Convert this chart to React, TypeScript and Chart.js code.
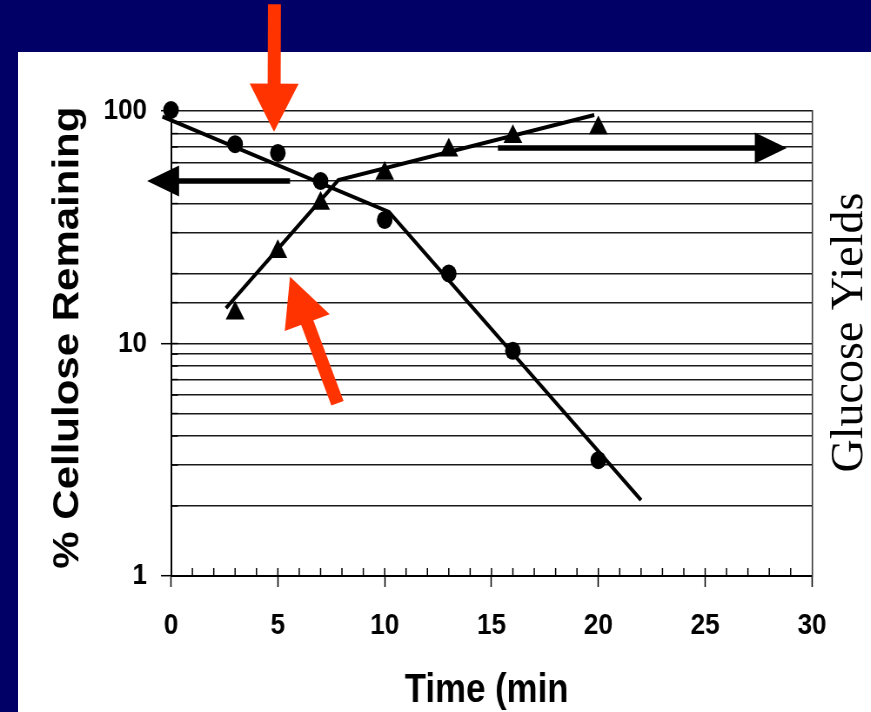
import React, { useEffect, useRef } from 'react';
import { Chart, registerables } from 'chart.js';

Chart.register(...registerables);

// ---- page geometry ----
const W = 871;
const H = 712;
const S = 0.87; // horizontal squeeze of the original slide
const LW = Math.round(W / S);

// ---- data ----
const CELL_TIME = [0, 3, 5, 7, 10, 13, 16, 20];
const CELL_PCT = [101, 72, 66, 50, 34, 20, 9.3, 3.15];
const GLU_TIME = [3, 5, 7, 10, 13, 16, 20];
const GLU_YIELD = [13.5, 24.8, 40, 53.8, 67.8, 77.5, 84.5];
const CELL_FIT_TIME = [-0.4, 10.2, 22];
const CELL_FIT_PCT = [94.5, 36.8, 2.12];
const GLU_FIT_TIME = [2.57, 7.83, 19.81];
const GLU_FIT_YIELD = [14.2, 50.5, 96.1];
const X_LABELS = [0, 5, 10, 15, 20, 25, 30];
const Y_LABELS = [1, 10, 100];

// annotation arrows, in data units (time, %)
const ARROW_FROM_T = [5.57, 15.3, 4.84, 7.79];
const ARROW_FROM_V = [50, 69.3, 288, 5.53];
const ARROW_TO_T = [-1.12, 28.82, 4.82, 5.57];
const ARROW_TO_V = [50, 69.3, 81.5, 19.38];
const ARROW_COLOR = ['#000000', '#000000', '#ff3300', '#ff3300'];
const ARROW_SHAFT = [5.5, 5.5, 13, 13];
const ARROW_HEAD_LEN = [32, 32, 48, 49];
const ARROW_HEAD_W = [31, 31, 49, 48];

const FAMILY = '"Liberation Sans", Arial, sans-serif';

const near = (v: number, list: number[]) => list.some((l) => Math.abs(v - l) < 1e-6);

function drawArrow(ctx: CanvasRenderingContext2D, x1: number, y1: number, x2: number, y2: number,
  shaft: number, headLen: number, headW: number, color: string) {
  const dx = x2 - x1;
  const dy = y2 - y1;
  const len = Math.hypot(dx, dy);
  const ux = dx / len;
  const uy = dy / len;
  const bx = x2 - ux * headLen;
  const by = y2 - uy * headLen;
  ctx.strokeStyle = color;
  ctx.fillStyle = color;
  ctx.lineWidth = shaft;
  ctx.lineCap = 'butt';
  ctx.beginPath();
  ctx.moveTo(x1, y1);
  ctx.lineTo(bx + ux * 1, by + uy * 1);
  ctx.stroke();
  ctx.beginPath();
  ctx.moveTo(x2, y2);
  ctx.lineTo(bx - uy * headW / 2, by + ux * headW / 2);
  ctx.lineTo(bx + uy * headW / 2, by - ux * headW / 2);
  ctx.closePath();
  ctx.fill();
}

const decorPlugin = {
  id: 'decor',
  afterDraw(chart: any) {
    const { ctx, chartArea: a } = chart;
    const x = chart.scales.x;
    const y = chart.scales.y;
    ctx.save();
    ctx.strokeStyle = '#000';
    ctx.lineWidth = 1.5;
    for (const t of x.ticks) {
      if (t.value <= 0 || t.value >= 30) continue;
      const px = x.getPixelForValue(t.value);
      ctx.beginPath();
      ctx.moveTo(px, a.bottom);
      ctx.lineTo(px, a.bottom - 8);
      ctx.stroke();
    }
    ctx.lineWidth = 1.4;
    for (const t of y.ticks) {
      const py = y.getPixelForValue(t.value);
      ctx.beginPath();
      ctx.moveTo(a.left, py);
      ctx.lineTo(a.left + 8, py);
      ctx.stroke();
    }
    ctx.restore();

    ctx.save();
    ctx.scale(1 / S, 1);
    for (let i = 0; i < ARROW_FROM_T.length; i++) {
      drawArrow(
        ctx,
        x.getPixelForValue(ARROW_FROM_T[i]) * S,
        y.getPixelForValue(ARROW_FROM_V[i]),
        x.getPixelForValue(ARROW_TO_T[i]) * S,
        y.getPixelForValue(ARROW_TO_V[i]),
        ARROW_SHAFT[i], ARROW_HEAD_LEN[i], ARROW_HEAD_W[i], ARROW_COLOR[i]
      );
    }
    ctx.font = '46px "Liberation Serif", "Times New Roman", serif';
    ctx.fillStyle = '#000';
    ctx.textAlign = 'center';
    ctx.textBaseline = 'middle';
    ctx.translate(a.right * S + 38, (a.top + a.bottom) / 2 - 11);
    ctx.rotate(-Math.PI / 2);
    ctx.fillText('Glucose Yields', 0, 0);
    ctx.restore();
  },
};

export default function App() {
  const ref = useRef<HTMLCanvasElement | null>(null);

  useEffect(() => {
    if (!ref.current) return;
    const pts = (xs: number[], ys: number[]) => xs.map((v, i) => ({ x: v, y: ys[i] }));
    const chart = new Chart(ref.current, {
      type: 'scatter',
      data: {
        datasets: [
          {
            label: 'Cellulose fit',
            data: pts(CELL_FIT_TIME, CELL_FIT_PCT),
            showLine: true,
            borderColor: '#000',
            borderWidth: 4,
            pointRadius: 0,
            tension: 0,
            clip: false as any,
            yAxisID: 'y',
          },
          {
            label: 'Glucose fit',
            data: pts(GLU_FIT_TIME, GLU_FIT_YIELD),
            showLine: true,
            borderColor: '#000',
            borderWidth: 4,
            pointRadius: 0,
            tension: 0,
            yAxisID: 'y2',
          },
          {
            label: '% Cellulose Remaining',
            data: pts(CELL_TIME, CELL_PCT),
            showLine: false,
            pointStyle: 'circle',
            pointRadius: 9,
            pointBackgroundColor: '#000',
            pointBorderWidth: 0,
            clip: false as any,
            yAxisID: 'y',
          },
          {
            label: 'Glucose Yields',
            data: pts(GLU_TIME, GLU_YIELD),
            showLine: false,
            pointStyle: 'triangle',
            pointRadius: 12.5,
            pointBackgroundColor: '#000',
            pointBorderWidth: 0,
            clip: false as any,
            yAxisID: 'y2',
          },
        ],
      },
      options: {
        responsive: false,
        animation: false,
        devicePixelRatio: 1,
        layout: { padding: { top: 111, left: 0, right: 0, bottom: 0 } },
        plugins: { legend: { display: false }, tooltip: { enabled: false }, title: { display: false } },
        scales: {
          x: {
            type: 'linear',
            position: 'bottom',
            min: 0,
            max: 30,
            afterFit: (s: any) => { s.height = H - 576; },
            grid: {
              drawOnChartArea: false,
              drawTicks: true,
              tickLength: 11,
              tickWidth: 1.5,
              tickColor: (c: any) => (c.tick && near(c.tick.value, X_LABELS) ? '#000' : 'rgba(0,0,0,0)'),
            },
            border: { display: true, color: '#000', width: 2 },
            ticks: {
              stepSize: 1,
              autoSkip: false,
              maxRotation: 0,
              padding: 21,
              color: '#000',
              font: { family: FAMILY, size: 30, weight: 'bold' },
              callback: (v: any) => (near(Number(v), X_LABELS) ? String(v) : ''),
            },
            title: {
              display: true,
              text: 'Time (min ',
              color: '#000',
              font: { family: FAMILY, size: 40, weight: 'bold', lineHeight: 1 },
              padding: { top: 0, bottom: 1 },
            },
          },
          y: {
            type: 'logarithmic',
            position: 'left',
            min: 1,
            max: 100,
            afterFit: (s: any) => { s.width = 171 / S; },
            grid: {
              color: '#1a1a1a',
              lineWidth: 1.4,
              drawTicks: true,
              tickLength: 11.5,
              tickWidth: 1.5,
              tickColor: (c: any) => (c.tick && near(c.tick.value, Y_LABELS) ? '#000' : 'rgba(0,0,0,0)'),
            },
            border: { display: true, color: '#000', width: 2 },
            ticks: {
              autoSkip: false,
              padding: 16,
              color: '#000',
              font: { family: FAMILY, size: 30, weight: 'bold' },
              callback: (v: any) => (near(Number(v), Y_LABELS) ? String(v) : ''),
            },
            title: {
              display: true,
              text: ' % Cellulose Remaining',
              color: '#000',
              font: { family: FAMILY, size: 42, weight: 'bold', lineHeight: 1.2 },
              padding: { top: 53, bottom: 0 },
            },
          },
          y2: {
            type: 'logarithmic',
            position: 'right',
            min: 1,
            max: 100,
            afterFit: (s: any) => { s.width = LW - 812 / S; },
            grid: { drawOnChartArea: false, drawTicks: false },
            border: { display: true, color: '#333', width: 1.5 },
            ticks: { display: false },
          },
        },
      } as any,
      plugins: [decorPlugin],
    });
    return () => chart.destroy();
  }, []);

  return (
    <div style={{ position: 'fixed', left: 0, top: 0, width: W, height: H, overflow: 'hidden', background: '#000066' }}>
      <div style={{ position: 'absolute', left: 18, top: 52, right: 0, bottom: 0, background: '#ffffff' }} />
      <div style={{ position: 'absolute', left: 0, top: 0, width: LW, height: H, transform: `scaleX(${S})`, transformOrigin: '0 0' }}>
        <canvas ref={ref} width={LW} height={H} style={{ width: LW, height: H, display: 'block' }} />
      </div>
    </div>
  );
}
